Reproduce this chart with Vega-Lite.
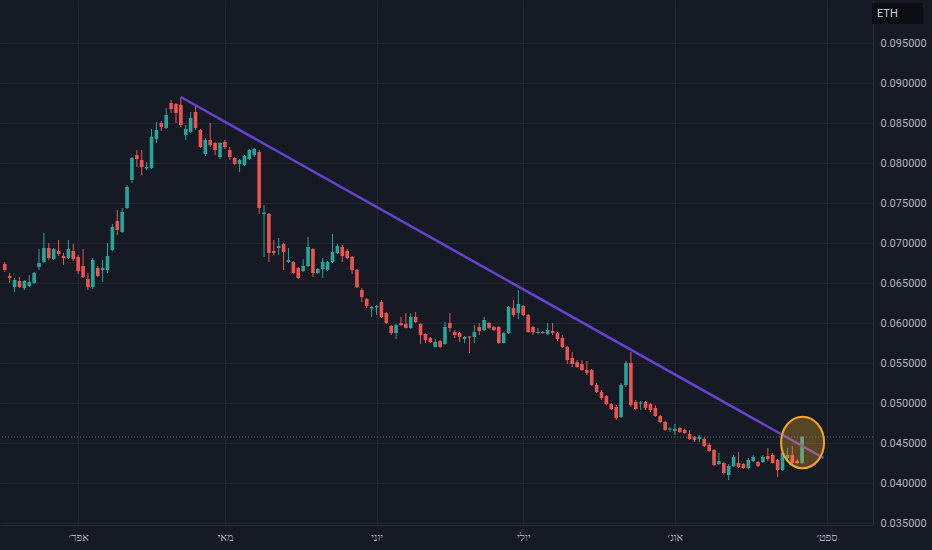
{
  "$schema": "https://vega.github.io/schema/vega-lite/v6.json",
  "autosize": {"type": "none"},
  "width": 873,
  "height": 525,
  "padding": {"left": 0, "top": 0, "right": 59, "bottom": 25},
  "background": "#161a25",
  "datasets": {
    "candles": [
      {"d":"2021-03-17","o":0.067375,"h":0.067625,"l":0.066375,"c":0.066625},
      {"d":"2021-03-18","o":0.065875,"h":0.06625,"l":0.065,"c":0.065625},
      {"d":"2021-03-19","o":0.0645,"h":0.065625,"l":0.063875,"c":0.065375},
      {"d":"2021-03-20","o":0.06525,"h":0.06575,"l":0.064375,"c":0.0645},
      {"d":"2021-03-21","o":0.064375,"h":0.065375,"l":0.064125,"c":0.06525},
      {"d":"2021-03-22","o":0.064625,"h":0.066,"l":0.0645,"c":0.065125},
      {"d":"2021-03-23","o":0.065,"h":0.066375,"l":0.064875,"c":0.06625},
      {"d":"2021-03-24","o":0.067,"h":0.06925,"l":0.066625,"c":0.0675},
      {"d":"2021-03-25","o":0.067625,"h":0.07125,"l":0.0675,"c":0.069375},
      {"d":"2021-03-26","o":0.069375,"h":0.07,"l":0.067875,"c":0.068125},
      {"d":"2021-03-27","o":0.068,"h":0.069375,"l":0.067875,"c":0.06925},
      {"d":"2021-03-28","o":0.069,"h":0.070375,"l":0.068375,"c":0.068625},
      {"d":"2021-03-29","o":0.068375,"h":0.06875,"l":0.06725,"c":0.068125},
      {"d":"2021-03-30","o":0.068125,"h":0.070375,"l":0.068,"c":0.06925},
      {"d":"2021-03-31","o":0.069,"h":0.069875,"l":0.06775,"c":0.068},
      {"d":"2021-04-01","o":0.06825,"h":0.0685,"l":0.066125,"c":0.0665},
      {"d":"2021-04-02","o":0.067125,"h":0.06925,"l":0.065625,"c":0.06575},
      {"d":"2021-04-03","o":0.0655,"h":0.06625,"l":0.064125,"c":0.0645},
      {"d":"2021-04-04","o":0.0645,"h":0.068125,"l":0.06425,"c":0.067875},
      {"d":"2021-04-05","o":0.066875,"h":0.067125,"l":0.06575,"c":0.065875},
      {"d":"2021-04-06","o":0.066625,"h":0.067875,"l":0.065125,"c":0.066875},
      {"d":"2021-04-07","o":0.066625,"h":0.07,"l":0.06625,"c":0.068375},
      {"d":"2021-04-08","o":0.069125,"h":0.072375,"l":0.069,"c":0.072},
      {"d":"2021-04-09","o":0.07275,"h":0.074125,"l":0.071,"c":0.071625},
      {"d":"2021-04-10","o":0.071375,"h":0.074375,"l":0.07125,"c":0.073875},
      {"d":"2021-04-11","o":0.074375,"h":0.07725,"l":0.07425,"c":0.077},
      {"d":"2021-04-12","o":0.077875,"h":0.08075,"l":0.0775,"c":0.080625},
      {"d":"2021-04-13","o":0.081,"h":0.081625,"l":0.0795,"c":0.0805},
      {"d":"2021-04-14","o":0.080375,"h":0.081625,"l":0.0785,"c":0.0795},
      {"d":"2021-04-15","o":0.0793125,"h":0.080125,"l":0.079125,"c":0.0795},
      {"d":"2021-04-16","o":0.079375,"h":0.08425,"l":0.07925,"c":0.08325},
      {"d":"2021-04-17","o":0.083,"h":0.085125,"l":0.0825,"c":0.084125},
      {"d":"2021-04-18","o":0.085,"h":0.08525,"l":0.084,"c":0.0845},
      {"d":"2021-04-19","o":0.084375,"h":0.086875,"l":0.08425,"c":0.086},
      {"d":"2021-04-20","o":0.0875,"h":0.087875,"l":0.08625,"c":0.08675},
      {"d":"2021-04-21","o":0.087375,"h":0.0875,"l":0.085,"c":0.08625},
      {"d":"2021-04-22","o":0.08725,"h":0.08825,"l":0.0845,"c":0.08475},
      {"d":"2021-04-23","o":0.0835,"h":0.08475,"l":0.082875,"c":0.08425},
      {"d":"2021-04-24","o":0.083875,"h":0.086375,"l":0.08375,"c":0.085625},
      {"d":"2021-04-25","o":0.086375,"h":0.08725,"l":0.084125,"c":0.084375},
      {"d":"2021-04-26","o":0.084125,"h":0.08425,"l":0.081875,"c":0.082},
      {"d":"2021-04-27","o":0.081125,"h":0.083125,"l":0.080875,"c":0.082875},
      {"d":"2021-04-28","o":0.082875,"h":0.085,"l":0.082,"c":0.08225},
      {"d":"2021-04-29","o":0.0825,"h":0.082625,"l":0.081,"c":0.081625},
      {"d":"2021-04-30","o":0.08075,"h":0.082625,"l":0.0805,"c":0.0825},
      {"d":"2021-05-01","o":0.082625,"h":0.082875,"l":0.08175,"c":0.082},
      {"d":"2021-05-02","o":0.081625,"h":0.082,"l":0.080375,"c":0.08075},
      {"d":"2021-05-03","o":0.080625,"h":0.08075,"l":0.07975,"c":0.079875},
      {"d":"2021-05-04","o":0.079875,"h":0.0805,"l":0.078875,"c":0.080375},
      {"d":"2021-05-05","o":0.07975,"h":0.081,"l":0.079625,"c":0.080875},
      {"d":"2021-05-06","o":0.0805,"h":0.08175,"l":0.080375,"c":0.081625},
      {"d":"2021-05-07","o":0.081,"h":0.081875,"l":0.08075,"c":0.08175},
      {"d":"2021-05-08","o":0.081375,"h":0.081625,"l":0.073625,"c":0.074375},
      {"d":"2021-05-09","o":0.073625,"h":0.07475,"l":0.06825,"c":0.0738125},
      {"d":"2021-05-10","o":0.073625,"h":0.07375,"l":0.067625,"c":0.06875},
      {"d":"2021-05-11","o":0.069,"h":0.070375,"l":0.0685,"c":0.06875},
      {"d":"2021-05-12","o":0.069375,"h":0.070625,"l":0.0685,"c":0.069625},
      {"d":"2021-05-13","o":0.069875,"h":0.07,"l":0.066625,"c":0.068875},
      {"d":"2021-05-14","o":0.067625,"h":0.069375,"l":0.0675,"c":0.067875},
      {"d":"2021-05-15","o":0.067625,"h":0.06775,"l":0.066125,"c":0.06625},
      {"d":"2021-05-16","o":0.066875,"h":0.067,"l":0.0655,"c":0.065625},
      {"d":"2021-05-17","o":0.0665,"h":0.068,"l":0.066375,"c":0.067125},
      {"d":"2021-05-18","o":0.067125,"h":0.07075,"l":0.067,"c":0.0695},
      {"d":"2021-05-19","o":0.06925,"h":0.069375,"l":0.06575,"c":0.06625},
      {"d":"2021-05-20","o":0.06625,"h":0.066875,"l":0.066125,"c":0.06675},
      {"d":"2021-05-21","o":0.06675,"h":0.068125,"l":0.065625,"c":0.067625},
      {"d":"2021-05-22","o":0.066625,"h":0.06775,"l":0.0665,"c":0.067625},
      {"d":"2021-05-23","o":0.067625,"h":0.071125,"l":0.0675,"c":0.068875},
      {"d":"2021-05-24","o":0.06875,"h":0.069875,"l":0.068625,"c":0.069625},
      {"d":"2021-05-25","o":0.0695,"h":0.06975,"l":0.067625,"c":0.068375},
      {"d":"2021-05-26","o":0.069,"h":0.06925,"l":0.068,"c":0.068125},
      {"d":"2021-05-27","o":0.06825,"h":0.068375,"l":0.066125,"c":0.066625},
      {"d":"2021-05-28","o":0.066625,"h":0.06675,"l":0.064375,"c":0.0645},
      {"d":"2021-05-29","o":0.064125,"h":0.064375,"l":0.062625,"c":0.06325},
      {"d":"2021-05-30","o":0.063,"h":0.063125,"l":0.061875,"c":0.062125},
      {"d":"2021-05-31","o":0.0618125,"h":0.062125,"l":0.06075,"c":0.062},
      {"d":"2021-06-01","o":0.0619375,"h":0.06225,"l":0.061,"c":0.062125},
      {"d":"2021-06-02","o":0.062625,"h":0.062875,"l":0.060625,"c":0.06075},
      {"d":"2021-06-03","o":0.06125,"h":0.061375,"l":0.059875,"c":0.06},
      {"d":"2021-06-04","o":0.059625,"h":0.05975,"l":0.0585,"c":0.05875},
      {"d":"2021-06-05","o":0.05875,"h":0.059875,"l":0.058,"c":0.05975},
      {"d":"2021-06-06","o":0.06,"h":0.06075,"l":0.059625,"c":0.05975},
      {"d":"2021-06-07","o":0.059875,"h":0.06125,"l":0.0593125,"c":0.059375},
      {"d":"2021-06-08","o":0.059375,"h":0.06125,"l":0.05925,"c":0.06075},
      {"d":"2021-06-09","o":0.06075,"h":0.061375,"l":0.06,"c":0.060125},
      {"d":"2021-06-10","o":0.059875,"h":0.06,"l":0.057375,"c":0.0585},
      {"d":"2021-06-11","o":0.058625,"h":0.05875,"l":0.0575,"c":0.057875},
      {"d":"2021-06-12","o":0.058125,"h":0.05825,"l":0.0575,"c":0.057625},
      {"d":"2021-06-13","o":0.057,"h":0.058,"l":0.0569375,"c":0.057625},
      {"d":"2021-06-14","o":0.05775,"h":0.057875,"l":0.056875,"c":0.057},
      {"d":"2021-06-15","o":0.057375,"h":0.060125,"l":0.05725,"c":0.0595},
      {"d":"2021-06-16","o":0.06,"h":0.06125,"l":0.058875,"c":0.059375},
      {"d":"2021-06-17","o":0.058875,"h":0.059125,"l":0.058125,"c":0.0585},
      {"d":"2021-06-18","o":0.05875,"h":0.058875,"l":0.057625,"c":0.05825},
      {"d":"2021-06-19","o":0.058,"h":0.058375,"l":0.0575,"c":0.05825},
      {"d":"2021-06-20","o":0.0583125,"h":0.058375,"l":0.05625,"c":0.0581875},
      {"d":"2021-06-21","o":0.05825,"h":0.05975,"l":0.0575,"c":0.058875},
      {"d":"2021-06-22","o":0.0595,"h":0.06,"l":0.0585,"c":0.059},
      {"d":"2021-06-23","o":0.059125,"h":0.06075,"l":0.059,"c":0.060375},
      {"d":"2021-06-24","o":0.06,"h":0.060125,"l":0.05925,"c":0.059375},
      {"d":"2021-06-25","o":0.0595,"h":0.059625,"l":0.059,"c":0.059125},
      {"d":"2021-06-26","o":0.0595,"h":0.059625,"l":0.057375,"c":0.0575},
      {"d":"2021-06-27","o":0.0575,"h":0.058875,"l":0.0574375,"c":0.05875},
      {"d":"2021-06-28","o":0.05875,"h":0.062125,"l":0.058625,"c":0.062},
      {"d":"2021-06-29","o":0.061875,"h":0.062875,"l":0.06075,"c":0.061},
      {"d":"2021-06-30","o":0.06125,"h":0.064125,"l":0.0605,"c":0.062375},
      {"d":"2021-07-01","o":0.062125,"h":0.06225,"l":0.060875,"c":0.061},
      {"d":"2021-07-02","o":0.061,"h":0.061125,"l":0.05875,"c":0.058875},
      {"d":"2021-07-03","o":0.0595,"h":0.059625,"l":0.0585,"c":0.058875},
      {"d":"2021-07-04","o":0.05875,"h":0.059375,"l":0.058625,"c":0.058875},
      {"d":"2021-07-05","o":0.058875,"h":0.059,"l":0.058625,"c":0.05875},
      {"d":"2021-07-06","o":0.058625,"h":0.06,"l":0.0585,"c":0.059125},
      {"d":"2021-07-07","o":0.059,"h":0.06,"l":0.0585,"c":0.05875},
      {"d":"2021-07-08","o":0.05875,"h":0.058875,"l":0.05775,"c":0.058},
      {"d":"2021-07-09","o":0.058125,"h":0.0585,"l":0.056875,"c":0.057},
      {"d":"2021-07-10","o":0.057,"h":0.057125,"l":0.054875,"c":0.055375},
      {"d":"2021-07-11","o":0.055625,"h":0.056375,"l":0.0545,"c":0.054875},
      {"d":"2021-07-12","o":0.055125,"h":0.055375,"l":0.054375,"c":0.0545},
      {"d":"2021-07-13","o":0.054875,"h":0.055375,"l":0.054,"c":0.054125},
      {"d":"2021-07-14","o":0.054125,"h":0.05525,"l":0.0535,"c":0.05375},
      {"d":"2021-07-15","o":0.054125,"h":0.05425,"l":0.052125,"c":0.05225},
      {"d":"2021-07-16","o":0.05225,"h":0.0525,"l":0.05125,"c":0.051375},
      {"d":"2021-07-17","o":0.051375,"h":0.051625,"l":0.050375,"c":0.050625},
      {"d":"2021-07-18","o":0.050875,"h":0.051,"l":0.04975,"c":0.049875},
      {"d":"2021-07-19","o":0.049875,"h":0.05,"l":0.049125,"c":0.04925},
      {"d":"2021-07-20","o":0.0495,"h":0.04975,"l":0.047875,"c":0.048125},
      {"d":"2021-07-21","o":0.04825,"h":0.0525,"l":0.048125,"c":0.05225},
      {"d":"2021-07-22","o":0.05225,"h":0.05525,"l":0.052,"c":0.055},
      {"d":"2021-07-23","o":0.055,"h":0.056375,"l":0.0495,"c":0.04975},
      {"d":"2021-07-24","o":0.050125,"h":0.050375,"l":0.049125,"c":0.04925},
      {"d":"2021-07-25","o":0.0499375,"h":0.05025,"l":0.049125,"c":0.0500625},
      {"d":"2021-07-26","o":0.050125,"h":0.05025,"l":0.049125,"c":0.049375},
      {"d":"2021-07-27","o":0.049875,"h":0.05,"l":0.048875,"c":0.049125},
      {"d":"2021-07-28","o":0.049375,"h":0.04975,"l":0.04825,"c":0.048375},
      {"d":"2021-07-29","o":0.048375,"h":0.0485,"l":0.0475,"c":0.047625},
      {"d":"2021-07-30","o":0.047625,"h":0.04775,"l":0.0465,"c":0.046625},
      {"d":"2021-07-31","o":0.0466875,"h":0.047,"l":0.046375,"c":0.0468125},
      {"d":"2021-08-01","o":0.0465,"h":0.047375,"l":0.046,"c":0.04675},
      {"d":"2021-08-02","o":0.046875,"h":0.047,"l":0.04625,"c":0.046375},
      {"d":"2021-08-03","o":0.046625,"h":0.04675,"l":0.046125,"c":0.04625},
      {"d":"2021-08-04","o":0.046125,"h":0.046625,"l":0.045375,"c":0.0455},
      {"d":"2021-08-05","o":0.04575,"h":0.045875,"l":0.045125,"c":0.045375},
      {"d":"2021-08-06","o":0.0455,"h":0.046,"l":0.045125,"c":0.04575},
      {"d":"2021-08-07","o":0.0455,"h":0.04575,"l":0.0445,"c":0.044625},
      {"d":"2021-08-08","o":0.04475,"h":0.045,"l":0.043875,"c":0.044},
      {"d":"2021-08-09","o":0.044125,"h":0.04425,"l":0.042125,"c":0.04225},
      {"d":"2021-08-10","o":0.042375,"h":0.04375,"l":0.04225,"c":0.04275},
      {"d":"2021-08-11","o":0.0425,"h":0.042625,"l":0.041125,"c":0.04125},
      {"d":"2021-08-12","o":0.041,"h":0.042375,"l":0.040375,"c":0.042125},
      {"d":"2021-08-13","o":0.042125,"h":0.0435,"l":0.042,"c":0.04325},
      {"d":"2021-08-14","o":0.0425,"h":0.043875,"l":0.041875,"c":0.042},
      {"d":"2021-08-15","o":0.042375,"h":0.0425,"l":0.04175,"c":0.041875},
      {"d":"2021-08-16","o":0.041875,"h":0.043125,"l":0.04175,"c":0.042875},
      {"d":"2021-08-17","o":0.04275,"h":0.0435,"l":0.042625,"c":0.04325},
      {"d":"2021-08-18","o":0.042625,"h":0.04275,"l":0.042,"c":0.042125},
      {"d":"2021-08-19","o":0.042625,"h":0.0435,"l":0.0425,"c":0.04325},
      {"d":"2021-08-20","o":0.043375,"h":0.044375,"l":0.04275,"c":0.043},
      {"d":"2021-08-21","o":0.0435,"h":0.04375,"l":0.0424375,"c":0.0425},
      {"d":"2021-08-22","o":0.042875,"h":0.043,"l":0.04075,"c":0.041625},
      {"d":"2021-08-23","o":0.041625,"h":0.044125,"l":0.0415,"c":0.04375},
      {"d":"2021-08-24","o":0.043125,"h":0.044375,"l":0.042875,"c":0.0435},
      {"d":"2021-08-25","o":0.0435,"h":0.044625,"l":0.0424375,"c":0.0425},
      {"d":"2021-08-26","o":0.04275,"h":0.043,"l":0.042375,"c":0.0425},
      {"d":"2021-08-27","o":0.0425,"h":0.045875,"l":0.042375,"c":0.04575}
    ],
    "trend": [
      {"d":"2021-04-22T00:00:00Z","v":0.08825},
      {"d":"2021-08-31T09:36:00Z","v":0.043125}
    ],
    "mark": [
      {"d":"2021-08-27T02:30:00Z","v":0.0450625}
    ],
    "last": [
      {"v":0.04575}
    ],
    "symbol": [
      {"d":"2021-09-09T11:30:00Z","v":0.0986875,"t":"ETH"}
    ]
  },
  "encoding": {
    "x": {
      "field": "d",
      "type": "temporal",
      "scale": {"type": "utc", "domain": ["2021-03-17T01:05:00Z", "2021-09-09T11:30:00Z"]},
      "axis": {
        "title": null,
        "values": [
          {"year": 2021, "month": 4, "date": 1, "utc": true},
          {"year": 2021, "month": 5, "date": 1, "utc": true},
          {"year": 2021, "month": 6, "date": 1, "utc": true},
          {"year": 2021, "month": 7, "date": 1, "utc": true},
          {"year": 2021, "month": 8, "date": 1, "utc": true},
          {"year": 2021, "month": 9, "date": 1, "utc": true}
        ],
        "labelExpr": "['ינו׳','פבר׳','מרץ','אפר׳','מאי','יוני','יולי','אוג׳','ספט׳','אוק׳','נוב׳','דצמ׳'][utcmonth(datum.value)]",
        "ticks": false,
        "labelPadding": 6,
        "labelColor": "#b2b5be",
        "labelFontSize": 11,
        "labelFont": "Roboto",
        "domainColor": "#2a2e39",
        "gridColor": "#232734",
        "grid": true
      }
    },
    "y": {
      "type": "quantitative",
      "scale": {"domain": [0.03475, 0.100375], "nice": false, "zero": false},
      "axis": {
        "title": null,
        "orient": "right",
        "values": [0.035, 0.04, 0.045, 0.05, 0.055, 0.06, 0.065, 0.07, 0.075, 0.08, 0.085, 0.09, 0.095],
        "format": ".6f",
        "ticks": false,
        "labelPadding": 7,
        "labelColor": "#b2b5be",
        "labelFontSize": 11,
        "labelFont": "Roboto",
        "domainColor": "#2a2e39",
        "gridColor": "#232734",
        "grid": true
      }
    }
  },
  "layer": [
    {
      "data": {"name": "last"},
      "mark": {"type": "rule", "color": "#26a69a", "strokeWidth": 1, "strokeDash": [1, 2], "opacity": 0.8},
      "encoding": {
        "y": {"field": "v", "type": "quantitative"},
        "x": null
      }
    },
    {
      "data": {"name": "candles"},
      "mark": {"type": "rule", "strokeWidth": 1},
      "encoding": {
        "y": {"field": "l", "type": "quantitative"},
        "y2": {"field": "h"},
        "color": {"condition": {"test": "datum.c >= datum.o", "value": "#26a69a"}, "value": "#ef5350"}
      }
    },
    {
      "data": {"name": "candles"},
      "mark": {"type": "bar", "width": 3.6},
      "encoding": {
        "y": {"field": "o", "type": "quantitative"},
        "y2": {"field": "c"},
        "color": {"condition": {"test": "datum.c >= datum.o", "value": "#26a69a"}, "value": "#ef5350"}
      }
    },
    {
      "data": {"name": "trend"},
      "mark": {"type": "line", "color": "#6a42d0", "strokeWidth": 2.5},
      "encoding": {
        "y": {"field": "v", "type": "quantitative"}
      }
    },
    {
      "data": {"name": "mark"},
      "mark": {
        "type": "point",
        "shape": "M0,-1A0.833,1 0 1,1 0,1A0.833,1 0 1,1 0,-1Z",
        "size": 2663,
        "filled": true,
        "fill": "#f5a623",
        "fillOpacity": 0.3,
        "stroke": "#f5a623",
        "strokeWidth": 2,
        "strokeOpacity": 1,
        "opacity": 1
      },
      "encoding": {
        "y": {"field": "v", "type": "quantitative"}
      }
    },
    {
      "data": {"name": "symbol"},
      "mark": {
        "type": "point",
        "shape": "M-1,-0.41H1V0.41H-1Z",
        "size": 2601,
        "filled": true,
        "fill": "#0c0e14",
        "opacity": 1,
        "xOffset": 29.5
      },
      "encoding": {
        "y": {"field": "v", "type": "quantitative"}
      }
    },
    {
      "data": {"name": "symbol"},
      "mark": {"type": "text", "align": "left", "baseline": "middle", "dx": 9, "color": "#d1d4dc", "fontSize": 11, "font": "Roboto"},
      "encoding": {
        "y": {"field": "v", "type": "quantitative"},
        "text": {"field": "t"}
      }
    }
  ],
  "config": {
    "view": {"stroke": null}
  }
}
